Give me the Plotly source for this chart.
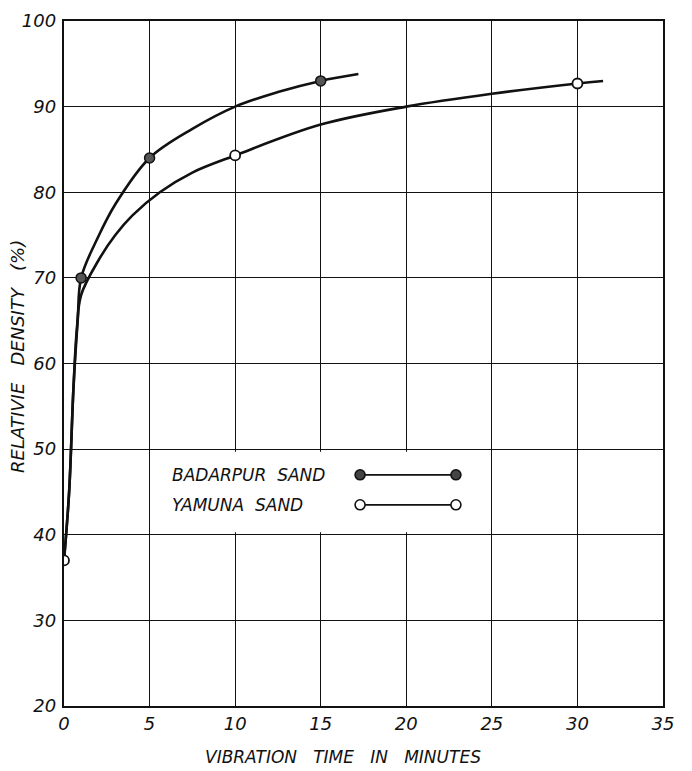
import plotly.graph_objects as go

# Measured points (markers)
badarpur_x = [1, 5, 15]
badarpur_y = [70, 84, 93]
yamuna_x = [0, 10, 30]
yamuna_y = [37, 84.3, 92.7]

# Hand-drawn curve traces
badarpur_curve_x = [0, 0.3, 0.55, 0.8, 1, 2, 3, 5, 7.5, 10, 12.5, 15, 17.2]
badarpur_curve_y = [37, 45, 57, 65, 70, 74.8, 78.6, 84, 87.4, 90, 91.7, 93, 93.8]
yamuna_curve_x = [0, 0.3, 0.55, 0.75, 1, 2, 3, 4, 5.6, 7.5, 10, 15, 20, 25, 30, 31.5]
yamuna_curve_y = [37, 45, 57, 64, 68, 72, 75, 77.3, 80, 82.3, 84.3, 87.9, 90, 91.5, 92.7, 93]

x_ticks = [0, 5, 10, 15, 20, 25, 30, 35]
y_ticks = [20, 30, 40, 50, 60, 70, 80, 90, 100]

FONT = "DejaVu Sans"
INK = "#111111"

fig = go.Figure()
for cx, cy in ((badarpur_curve_x, badarpur_curve_y), (yamuna_curve_x, yamuna_curve_y)):
    fig.add_trace(go.Scatter(x=cx, y=cy, mode="lines",
                             line=dict(color=INK, width=2.6, shape="spline", smoothing=1.0),
                             showlegend=False, hoverinfo="skip"))
fig.add_trace(go.Scatter(x=badarpur_x, y=badarpur_y, mode="markers", name="BADARPUR SAND",
                         marker=dict(size=10, color="#555555", line=dict(color=INK, width=1.5)),
                         showlegend=False))
fig.add_trace(go.Scatter(x=yamuna_x, y=yamuna_y, mode="markers", name="YAMUNA SAND",
                         marker=dict(size=10, color="white", line=dict(color=INK, width=1.8)),
                         showlegend=False))

# Legend box (white patch interrupting the grid) with text on the left and symbol on the right
shapes = [dict(type="rect", xref="x", yref="y", x0=5.3, x1=24.2, y0=40.3, y1=49.7,
               fillcolor="white", line=dict(width=0), layer="between")]
legend_items = [("BADARPUR  SAND", 47.0, "#444444"), ("YAMUNA  SAND", 43.5, "white")]
annotations = []
for label, yv, fill in legend_items:
    annotations.append(dict(x=6.2, y=yv, xref="x", yref="y", text=label, showarrow=False,
                            xanchor="left", yanchor="middle",
                            font=dict(family=FONT, size=17, color=INK, style="italic")))
    shapes.append(dict(type="line", xref="x", yref="y", x0=17.3, x1=22.9, y0=yv, y1=yv,
                       line=dict(color=INK, width=1.8), layer="above"))
    for xv in (17.3, 22.9):
        shapes.append(dict(type="circle", xref="x", yref="y", xsizemode="pixel", ysizemode="pixel",
                           xanchor=xv, yanchor=yv, x0=-5, x1=5, y0=-5, y1=5,
                           fillcolor=fill, line=dict(color=INK, width=1.6), layer="above"))

# Axis titles as annotations (positioned like the hand lettering)
annotations.append(dict(x=0.465, y=-0.075, xref="paper", yref="paper",
                        text="VIBRATION   TIME   IN   MINUTES", showarrow=False,
                        xanchor="center", yanchor="middle",
                        font=dict(family=FONT, size=17, color=INK, style="italic")))
annotations.append(dict(x=-0.078, y=0.51, xref="paper", yref="paper",
                        text="RELATIVIE   DENSITY   (%)", showarrow=False, textangle=-90,
                        xanchor="center", yanchor="middle",
                        font=dict(family=FONT, size=18, color=INK, style="italic")))

fig.update_layout(
    width=692, height=771,
    margin=dict(l=64, r=29, t=10, b=65),
    paper_bgcolor="white", plot_bgcolor="white",
    font=dict(family=FONT, size=16, color=INK, style="italic"),
    shapes=shapes, annotations=annotations,
    showlegend=False,
)
fig.update_xaxes(range=[0, 35], tickvals=x_ticks, ticktext=[str(v) for v in x_ticks],
                 showgrid=True, gridcolor=INK, gridwidth=1.4,
                 showline=True, linecolor=INK, linewidth=2.4, mirror=True,
                 ticks="", zeroline=False,
                 tickfont=dict(family=FONT, size=18, color=INK, style="italic"))
fig.update_yaxes(range=[20, 100], tickvals=y_ticks, ticktext=[str(v) for v in y_ticks],
                 showgrid=True, gridcolor=INK, gridwidth=1.4,
                 showline=True, linecolor=INK, linewidth=2.4, mirror=True,
                 ticks="", zeroline=False, ticklabelstandoff=2,
                 tickfont=dict(family=FONT, size=18, color=INK, style="italic"))

fig.write_html("out.html")
